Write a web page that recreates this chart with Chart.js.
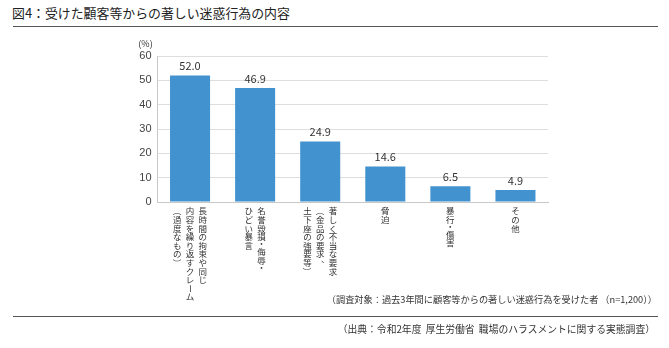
<!DOCTYPE html>
<html>
<head>
<meta charset="utf-8">
<script src="https://cdn.jsdelivr.net/npm/chart.js@4.4.0/dist/chart.umd.min.js"></script>
<style>
  html, body { margin: 0; padding: 0; background: #fff; }
  #wrap { position: relative; width: 669px; height: 348px; overflow: hidden; font-family: "Noto Sans CJK JP", sans-serif; color: #333; }
  #myChart { position: absolute; left: 0; top: 0; }
  .title { position: absolute; left: 12px; top: 3px; font-size: 12.9px; font-weight: 400; color: #222; white-space: nowrap; }
  .rule { position: absolute; left: 13px; width: 645px; height: 0; border-top: 1px solid #555; }
  .note { position: absolute; right: 12px; font-size: 9.2px; color: #333; white-space: nowrap; }
</style>
</head>
<body>
<div id="wrap">
  <div class="title">図4：受けた顧客等からの著しい迷惑行為の内容</div>
  <div class="rule" style="top:26px"></div>
  <canvas id="myChart" width="669" height="348"></canvas>
  <div class="note" style="top:292px">（調査対象：過去3年間に顧客等からの著しい迷惑行為を受けた者 （n=1,200））</div>
  <div class="rule" style="top:316px"></div>
  <div class="note" style="top:322px; right:14px; font-size:9.8px; word-spacing:2px">（出典：令和2年度 厚生労働省 職場のハラスメントに関する実態調査）</div>
</div>
<script>
// カテゴリ（縦書き、右の列から順に）
const categorias = [
	["長時間の拘束や同じ", "内容を繰り返すクレーム", "（過度なもの）"],
	["名誉毀損・侮辱・", "ひどい暴言"],
	["著しく不当な要求", "（金品の要求、", "土下座の強要等）"],
	["脅迫"],
	["暴行・傷害"],
	["その他"]
];
const valores = [52.0, 46.9, 24.9, 14.6, 6.5, 4.9];
const ticks_y = [0, 10, 20, 30, 40, 50, 60];

const FONT_JP = "'Noto Sans CJK JP', sans-serif";

// valor encima de cada barra
const etiquetasValor = {
	id: "etiquetasValor",
	afterDatasetsDraw(chart) {
		const c = chart.ctx;
		const meta = chart.getDatasetMeta(0);
		c.save();
		c.font = "11px " + FONT_JP;
		c.fillStyle = "#333";
		c.textAlign = "center";
		c.textBaseline = "bottom";
		meta.data.forEach((bar, i) => {
			c.fillText(valores[i].toFixed(1), bar.x, bar.y - 4);
		});
		c.restore();
	}
};

// etiquetas verticales del eje x + "(%)"
const etiquetasVerticales = {
	id: "etiquetasVerticales",
	afterDraw(chart) {
		const c = chart.ctx;
		const xs = chart.scales.x;
		const area = chart.chartArea;
		const colGap = 12.8;
		const pitch = 8.6;
		const y0 = area.bottom + 5;
		c.save();
		c.font = "8.5px " + FONT_JP;
		c.fillStyle = "#333";
		c.textAlign = "center";
		c.textBaseline = "top";
		categorias.forEach((cols, i) => {
			const cx = xs.getPixelForValue(i);
			const n = cols.length;
			cols.forEach((txt, j) => {
				const x = cx + ((n - 1) / 2 - j) * colGap;
				let y = y0;
				Array.from(txt).forEach((ch) => {
					if (ch === "ー" || ch === "（" || ch === "）") {
						c.save();
						c.translate(x, y + 4.3);
						c.rotate(Math.PI / 2);
						c.textBaseline = "middle";
						c.fillText(ch, 0, 0);
						c.restore();
					} else if (ch === "、") {
						c.fillText(ch, x + 5, y - 4);
					} else if (ch === "・") {
						c.fillText(ch, x, y - 1.5);
						y -= 2.5;
					} else {
						c.fillText(ch, x, y);
					}
					y += pitch;
				});
			});
		});
		c.font = "9px " + FONT_JP;
		c.textBaseline = "middle";
		c.fillText("(%)", area.left - 12, area.top - 12);
		c.restore();
	}
};

const ctx = document.getElementById("myChart").getContext("2d");

let myChart = new Chart(ctx, {
	type: "bar",
	data: {
		labels: categorias,
		datasets: [
			{
				data: valores,
				backgroundColor: "#4192cf",
				borderWidth: 0,
				categoryPercentage: 1,
				barPercentage: 0.615,
			}
		],
	},
	options: {
		responsive: false,
		animation: false,
		layout: {
			padding: { left: 117.5, right: 121, top: 56, bottom: 146 },
		},
		plugins: {
			legend: { display: false },
			tooltip: { enabled: false },
		},
		scales: {
			x: {
				grid: { display: false },
				border: { display: true, color: "#c8c8c8" },
				ticks: { display: false },
				afterFit(s) { s.height = 0; },
			},
			y: {
				min: 0,
				max: 60,
				afterBuildTicks(s) { s.ticks = ticks_y.map(v => ({ value: v })); },
				grid: { color: "#dedede", drawTicks: false },
				border: { display: true, color: "#c8c8c8" },
				ticks: {
					padding: 6,
					color: "#444",
					font: { size: 11, family: "'Liberation Sans', Arial, sans-serif" },
				},
				afterFit(s) { s.width = 40; },
			},
		},
	},
	plugins: [etiquetasValor, etiquetasVerticales],
});
</script>
</body>
</html>
